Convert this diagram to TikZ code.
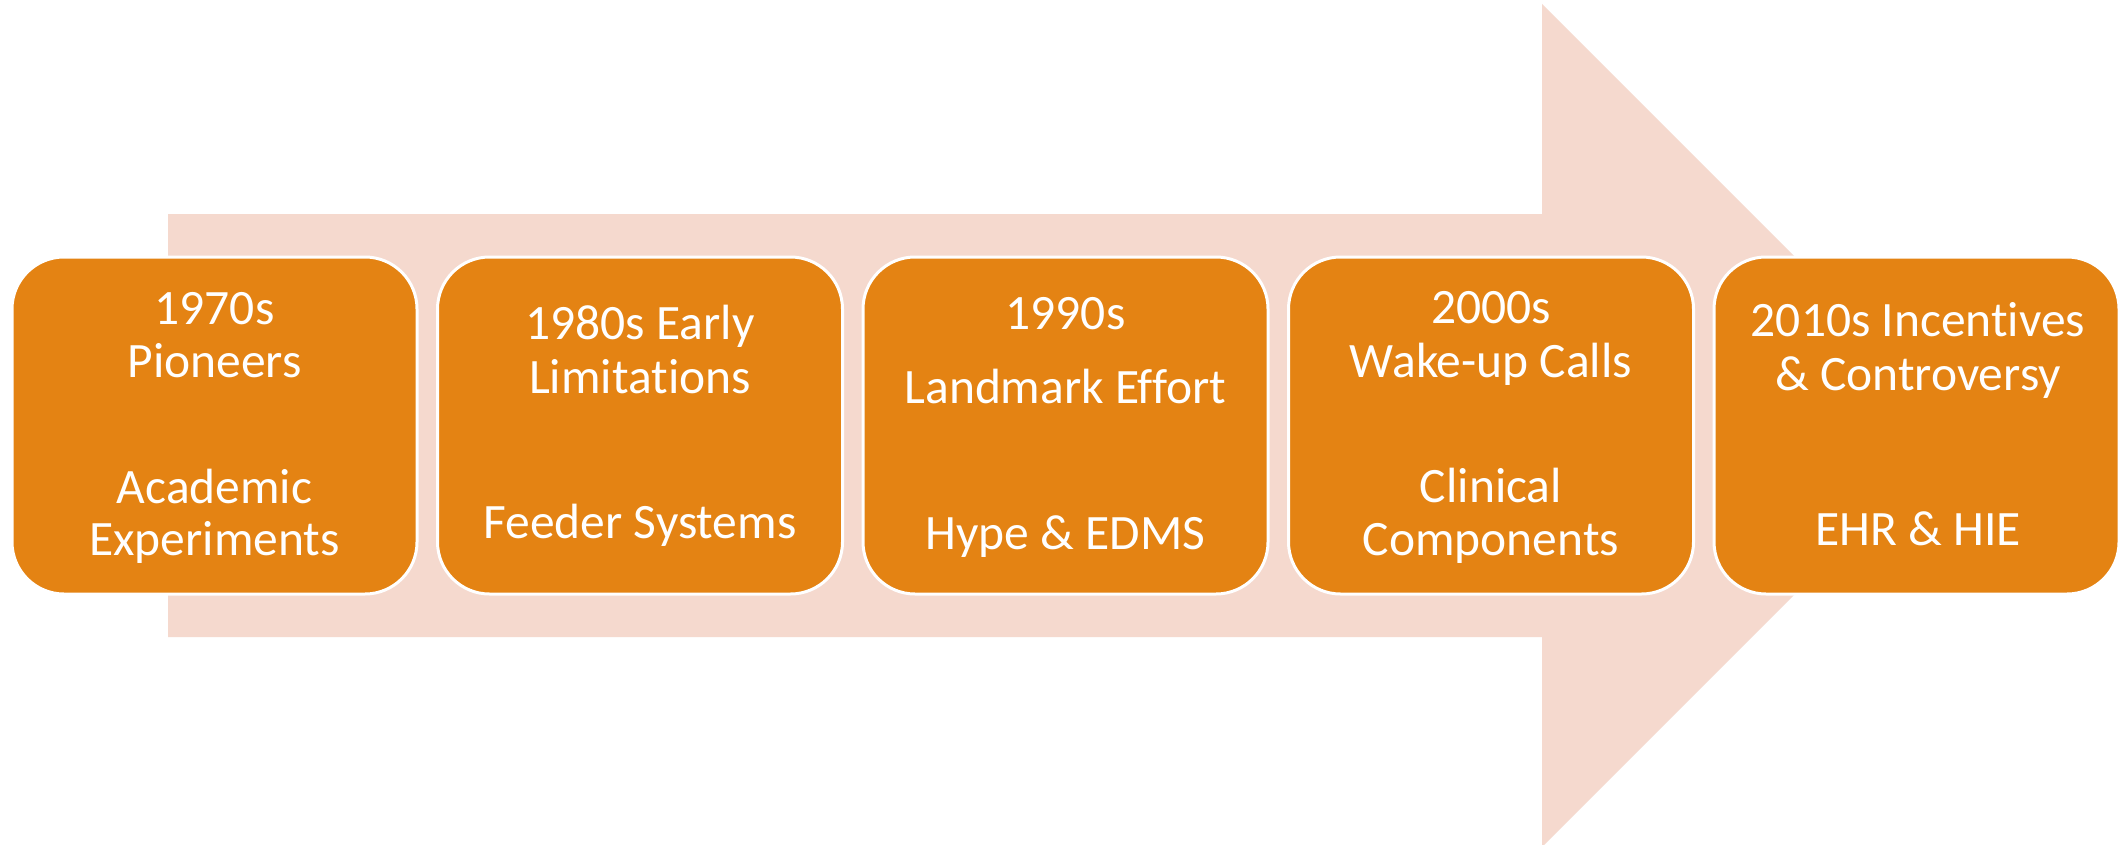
\documentclass[tikz,border=0pt]{standalone}
\usepackage{fontspec}
\setmainfont{Carlito}[Ligatures={NoCommon,NoRare}]
\definecolor{arrowpink}{HTML}{F5D9CE}
\definecolor{boxorange}{HTML}{E48313}
\begin{document}
\begin{tikzpicture}[x=1pt,y=-1pt,
  stagebox/.style={rectangle, rounded corners=52pt, fill=boxorange, draw=white, line width=3pt,
    minimum width=405pt, minimum height=337pt, inner sep=0pt},
  txt/.style={anchor=base, text=white, inner sep=0pt, font=\fontsize{49.5}{52}\selectfont}]
\clip (0,0) rectangle (2119,845);
\fill[white] (0,0) rectangle (2119,845);
% big arrow
\fill[arrowpink] (168,214) -- (1542,214) -- (1542,4) -- (1963.5,425.5) -- (1542,847) -- (1542,637) -- (168,637) -- cycle;
% boxes
\node[stagebox] (b1) at (214.5,425.5) {};
\node[stagebox] (b2) at (640,425.5) {};
\node[stagebox] (b3) at (1065.5,425.5) {};
\node[stagebox] (b4) at (1491,425.5) {};
\node[stagebox] (b5) at (1916.5,425.5) {};
% texts
\node[txt] (t1a) at (214.5,324) {1970s};
\node[txt] (t1b) at (214.5,377) {Pioneers};
\node[txt] (t1c) at (214.5,503) {Academic};
\node[txt] (t1d) at (214.5,555) {Experiments};
\node[txt] (t2a) at (640,339) {1980s Early};
\node[txt] (t2b) at (640,393) {Limitations};
\node[txt] (t2c) at (640,538) {Feeder Systems};
\node[txt] (t3a) at (1065.5,329) {1990s};
\node[txt] (t3b) at (1065.5,403) {Landmark Effort};
\node[txt] (t3c) at (1065.5,549) {Hype \& EDMS};
\node[txt] (t4a) at (1491,323) {2000s};
\node[txt] (t4b) at (1491,377) {Wake-up Calls};
\node[txt] (t4c) at (1491,502) {Clinical};
\node[txt] (t4d) at (1491,555) {Components};
\node[txt] (t5a) at (1918,336) {2010s Incentives};
\node[txt] (t5b) at (1918,390) {\& Controversy};
\node[txt] (t5c) at (1918,545) {EHR \& HIE};
\end{tikzpicture}
\end{document}
